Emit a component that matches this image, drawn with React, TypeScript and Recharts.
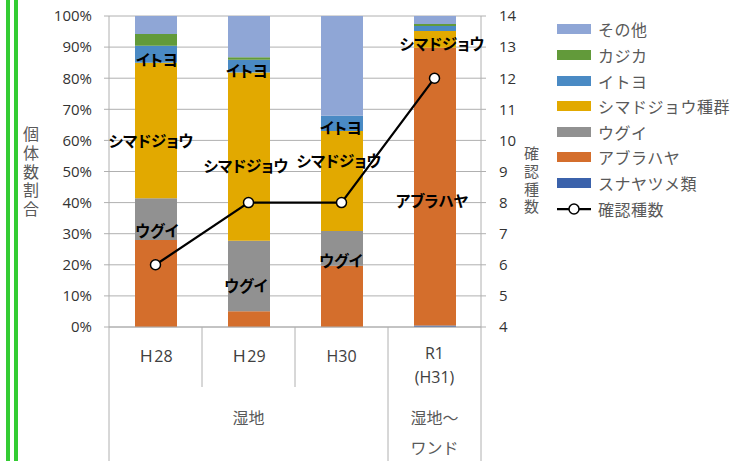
import React from 'react';
import { ComposedChart, Bar, Line, XAxis, YAxis, CartesianGrid, Legend, LabelList } from 'recharts';

// ---- data ----
const categories = ['Ｈ28', 'Ｈ29', 'H30', 'R1\n(H31)'];
const groupLabels = ['湿地', '湿地～\nワンド'];
const groupStart = [0, 3];
const groupEnd = [2, 3];

const sunayatsume = [0, 0, 0, 0.5];
const aburahaya = [28, 5.1, 19.7, 89.3];
const ugui = [13.4, 22.6, 11.2, 0];
const shimadojou = [43.6, 54.1, 32.1, 5.4];
const itoyo = [5.4, 4.1, 4.9, 1.6];
const kajika = [3.8, 0.8, 0, 0.6];
const sonota = [5.8, 13.3, 32.1, 2.6];
const speciesCount = [6, 8, 8, 12];

const seriesNames = ['スナヤツメ類', 'アブラハヤ', 'ウグイ', 'シマドジョウ種群', 'イトヨ', 'カジカ', 'その他'];
const seriesShort = ['スナヤツメ', 'アブラハヤ', 'ウグイ', 'シマドジョウ', 'イトヨ', 'カジカ', 'その他'];
const seriesValues = [sunayatsume, aburahaya, ugui, shimadojou, itoyo, kajika, sonota];
const lineName = '確認種数';

const leftTicks = [0, 10, 20, 30, 40, 50, 60, 70, 80, 90, 100];
const rightTicks = [4, 5, 6, 7, 8, 9, 10, 11, 12, 13, 14];
const leftTitle = '個体数割合';
const rightTitle = '確認種数';

// which segments carry a data label: [series index, category index]
const labelled: number[][] = [
  [4, 0], [4, 1], [4, 2],
  [3, 0], [3, 1], [3, 2], [3, 3],
  [2, 0], [2, 1], [2, 2],
  [1, 3],
];

// ---- styling ----
const colors = ['#3b62ab', '#d46e2c', '#919191', '#e2a900', '#4a8ac4', '#629a3a', '#8fa6d6'];
const labelOffsets: Record<string, number[]> = {
  '4-0': [1, 5], '4-1': [-2, 4], '4-2': [-1, 4],
  '3-0': [-5, 9.5], '3-1': [-3, 8], '3-2': [-3, -21], '3-3': [7, 4],
  '2-0': [1, 11], '2-1': [-3, 9], '2-2': [-1, 12],
  '1-3': [-3, 13],
};
const gridColor = '#b0b0b0';
const FONT = "'Open Sans', 'Noto Sans CJK JP', sans-serif";
const JP = "'Noto Sans CJK JP', sans-serif";

const data = categories.map((c, i) => {
  const row: any = { cat: c, count: speciesCount[i] };
  seriesValues.forEach((vals, s) => {
    row['s' + s] = vals[i];
  });
  return row;
});

const XTick = (props: any) => {
  const { x, y, payload } = props;
  const i: number = payload?.index ?? props.index;
  const half: number = payload?.offset || 46.5;
  const lines = String(categories[i]).split('\n');
  const isGroupStart = groupStart.includes(i);
  const g = groupStart.indexOf(i);
  return (
    <g>
      <line x1={x - half} x2={x - half} y1={y} y2={isGroupStart ? 461 : y + 60} stroke={gridColor} strokeWidth={1} />
      {i === categories.length - 1 && (
        <line x1={x + half} x2={x + half} y1={y} y2={461} stroke={gridColor} strokeWidth={1} />
      )}
      {lines.map((ln, k) => (
        <text key={k} x={x} y={lines.length === 1 ? y + 29 : y + 26 + k * 24} textAnchor="middle"
          dominantBaseline="central" fontSize={16} fill="#404040" fontFamily={FONT}>{ln}</text>
      ))}
      {g >= 0 && String(groupLabels[g]).split('\n').map((ln, k) => (
        <text key={'g' + k} x={x + (groupEnd[g] - groupStart[g]) * half} y={y + 90 + k * 30} textAnchor="middle"
          dominantBaseline="central" fontSize={16} fill="#595959" fontFamily={JP}>{ln}</text>
      ))}
    </g>
  );
};

const makeLabel = (s: number) => (p: any) => {
  const idx: number = p.index;
  if (!labelled.some(([a, b]) => a === s && b === idx)) return null;
  const off = labelOffsets[s + '-' + idx] || [0, 0];
  const cx = Number(p.x) + Number(p.width) / 2 + off[0];
  const cy = Number(p.y) + Number(p.height) / 2 + off[1];
  return (
    <text x={cx} y={cy} textAnchor="middle" dominantBaseline="central" fontSize={15.5} fontWeight={700}
      fill="#000" fontFamily={JP} style={{ fontFeatureSettings: '"palt"' }}>{seriesShort[s]}</text>
  );
};

const LegendContent = () => {
  const order = [6, 5, 4, 3, 2, 1, 0];
  const rowH = 25.6;
  return (
    <div style={{ fontFamily: JP, fontSize: 16, color: '#595959', letterSpacing: 0.5 }}>
      {order.map((s) => (
        <div key={s} style={{ height: rowH, display: 'flex', alignItems: 'center', whiteSpace: 'nowrap' }}>
          <div style={{ width: 34, height: 10, background: colors[s], flex: '0 0 34px' }} />
          <span style={{ marginLeft: 7 }}>{seriesNames[s]}</span>
        </div>
      ))}
      <div style={{ height: rowH, display: 'flex', alignItems: 'center', whiteSpace: 'nowrap' }}>
        <svg width={34} height={14} style={{ flex: '0 0 34px' }}>
          <line x1={0} x2={34} y1={7} y2={7} stroke="#000" strokeWidth={2.25} />
          <circle cx={17} cy={7} r={5} fill="#fff" stroke="#000" strokeWidth={1.5} />
        </svg>
        <span style={{ marginLeft: 7 }}>{lineName}</span>
      </div>
    </div>
  );
};

export default function App() {
  return (
    <div style={{ position: 'absolute', left: 0, top: 0, width: 736, height: 461, background: '#fff', overflow: 'hidden' }}>
      <div style={{ position: 'absolute', left: 6, top: 0, width: 4, height: 461, background: '#33cc33' }} />
      <div style={{ position: 'absolute', left: 14, top: 0, width: 4, height: 461, background: '#33cc33' }} />
      <ComposedChart width={736} height={461} data={data} margin={{ top: 16, right: 215, bottom: 0, left: 0 }}>
        <CartesianGrid yAxisId="left" vertical={false} stroke={gridColor} strokeWidth={1} />
        <XAxis dataKey="cat" interval={0} height={134} tickSize={0} tickMargin={0} tickLine={false}
          axisLine={{ stroke: gridColor }} tick={<XTick />} />
        <YAxis yAxisId="left" width={109} domain={[0, 100]} ticks={leftTicks} interval={0}
          tickFormatter={(v: number) => v + '%'} tickSize={5} tickMargin={12}
          axisLine={{ stroke: gridColor }} tickLine={{ stroke: gridColor }}
          tick={{ fontSize: 15, fill: '#333', fontFamily: FONT }} />
        <YAxis yAxisId="right" orientation="right" width={40} domain={[4, 14]} ticks={rightTicks} interval={0}
          tickSize={5} tickMargin={13} axisLine={{ stroke: gridColor }} tickLine={{ stroke: gridColor }}
          tick={{ fontSize: 15, fill: '#333', fontFamily: FONT, textAnchor: 'start' }} />
        {seriesValues.map((_, s) => (
          <Bar key={s} yAxisId="left" dataKey={'s' + s} name={seriesNames[s]} stackId="a" fill={colors[s]}
            barSize={42} isAnimationActive={false}>
            <LabelList dataKey={'s' + s} content={makeLabel(s)} />
          </Bar>
        ))}
        <Line yAxisId="right" dataKey="count" name={lineName} stroke="#000" strokeWidth={2.25}
          dot={{ r: 5, fill: '#fff', stroke: '#000', strokeWidth: 1.5 }} isAnimationActive={false} />
        <Legend layout="vertical" align="center" verticalAlign="middle" content={<LegendContent />}
          wrapperStyle={{ left: 557, top: 16.7, width: 180 }} />
      </ComposedChart>
      <div style={{ position: 'absolute', left: 21, top: 125.5, width: 20, lineHeight: '20px', fontSize: 16, letterSpacing: 2.75, writingMode: 'vertical-rl', color: '#595959', fontFamily: JP, whiteSpace: 'nowrap' }}>
        {leftTitle}
      </div>
      <div style={{ position: 'absolute', left: 521, top: 145.5, width: 20, lineHeight: '20px', fontSize: 15, letterSpacing: 2.7, writingMode: 'vertical-rl', color: '#595959', fontFamily: JP, whiteSpace: 'nowrap' }}>
        {rightTitle}
      </div>
    </div>
  );
}
